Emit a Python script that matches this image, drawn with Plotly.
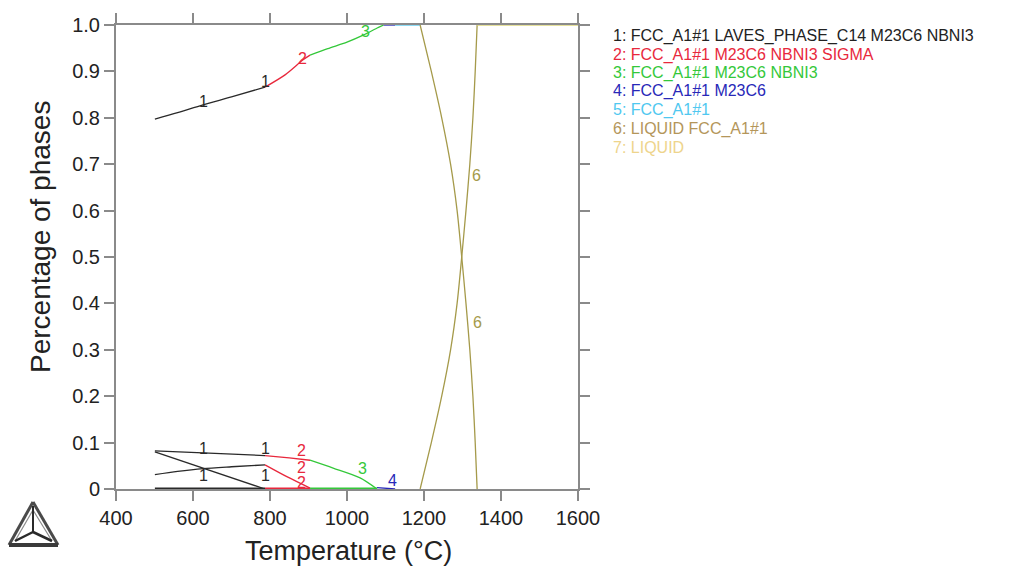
import plotly.graph_objects as go

# ---------------- data ----------------
# Set 1: FCC_A1#1 LAVES_PHASE_C14 M23C6 NBNI3
T1_fcc = [501, 560, 626, 700, 787]
F1_fcc = [0.797, 0.811, 0.828, 0.845, 0.866]
T1_a = [501, 626, 787]
F1_a = [0.082, 0.078, 0.072]
T1_laves = [501, 787]
F1_laves = [0.080, 0.0]
T1_c = [501, 560, 626, 700, 787]
F1_c = [0.031, 0.038, 0.044, 0.048, 0.052]
T1_zero = [501, 787]
F1_zero = [0.0, 0.0]

# Set 2: FCC_A1#1 M23C6 NBNI3 SIGMA
T2_fcc = [787, 840, 886, 904]
F2_fcc = [0.866, 0.893, 0.925, 0.935]
T2_a = [787, 850, 904]
F2_a = [0.072, 0.067, 0.062]
T2_b = [787, 845, 904]
F2_b = [0.052, 0.026, 0.002]
T2_zero = [787, 904]
F2_zero = [0.0, 0.0]

# Set 3: FCC_A1#1 M23C6 NBNI3
T3_fcc = [904, 950, 1000, 1042, 1075, 1095]
F3_fcc = [0.935, 0.949, 0.963, 0.978, 0.992, 1.0]
T3_a = [904, 964, 1034, 1078]
F3_a = [0.062, 0.045, 0.024, 0.0]
T3_zero = [904, 1078]
F3_zero = [0.0, 0.0]

# Set 4: FCC_A1#1 M23C6
T4_fcc = [1095, 1125]
F4_fcc = [1.0, 1.0]
T4_a = [1078, 1125]
F4_a = [0.003, 0.0]

# Set 5: FCC_A1#1
T5_fcc = [1125, 1190]
F5_fcc = [1.0, 1.0]

# Set 6: LIQUID FCC_A1#1
T6 = [1190, 1219, 1246, 1269, 1286, 1298, 1309, 1319, 1327, 1333, 1338]
F6_liq = [0.0, 0.1, 0.2, 0.3, 0.4, 0.5, 0.6, 0.7, 0.8, 0.9, 1.0]
F6_fcc = [1.0, 0.9, 0.8, 0.7, 0.6, 0.5, 0.4, 0.3, 0.2, 0.1, 0.0]

# Set 7: LIQUID
T7 = [1338, 1600]
F7_liq = [1.0, 1.0]

legend_labels = [
    "1: FCC_A1#1 LAVES_PHASE_C14 M23C6 NBNI3",
    "2: FCC_A1#1 M23C6 NBNI3 SIGMA",
    "3: FCC_A1#1 M23C6 NBNI3",
    "4: FCC_A1#1 M23C6",
    "5: FCC_A1#1",
    "6: LIQUID FCC_A1#1",
    "7: LIQUID",
]
set_colors = ["#2a2a2a", "#e8283c", "#34c83a", "#2828b8", "#50c8f0", "#a59a4a", "#dcd67a"]
legend_colors = ["#222222", "#e8283c", "#34c83a", "#2828b8", "#50c8f0", "#b4965a", "#eed48c"]

# curve labels: (text, T, fraction, set index)
curve_labels = [
    ("1", 626, 0.836, 0), ("1", 787, 0.879, 0),
    ("2", 885, 0.927, 1),
    ("3", 1047, 0.985, 2),
    ("4", 1117, 1.02, 3),
    ("7", 1548, 1.02, 6),
    ("6", 1336, 0.675, 5), ("6", 1338, 0.358, 5),
    ("1", 626, 0.088, 0), ("1", 626, 0.030, 0),
    ("1", 787, 0.088, 0), ("1", 787, 0.030, 0),
    ("2", 883, 0.084, 1), ("2", 881, 0.047, 1), ("2", 881, 0.015, 1),
    ("3", 1039, 0.045, 2),
    ("4", 1117, 0.018, 3),
]

x_ticks = [400, 600, 800, 1000, 1200, 1400, 1600]
y_ticks = [0, 0.1, 0.2, 0.3, 0.4, 0.5, 0.6, 0.7, 0.8, 0.9, 1.0]
y_ticktext = ["0", "0.1", "0.2", "0.3", "0.4", "0.5", "0.6", "0.7", "0.8", "0.9", "1.0"]

# ---------------- figure ----------------
fig = go.Figure()
series = [
    (T1_zero, F1_zero, 0, 3), (T2_zero, F2_zero, 1, 3), (T3_zero, F3_zero, 2, 3),
    (T1_fcc, F1_fcc, 0, 1.3), (T1_a, F1_a, 0, 1.3), (T1_laves, F1_laves, 0, 1.3), (T1_c, F1_c, 0, 1.3),
    (T2_fcc, F2_fcc, 1, 1.3), (T2_a, F2_a, 1, 1.3), (T2_b, F2_b, 1, 1.3),
    (T3_fcc, F3_fcc, 2, 1.3), (T3_a, F3_a, 2, 1.3),
    (T4_fcc, F4_fcc, 3, 1.3), (T4_a, F4_a, 3, 1.3),
    (T5_fcc, F5_fcc, 4, 1.3),
    (T6, F6_liq, 5, 1.3), (T6, F6_fcc, 5, 1.3),
    (T7, F7_liq, 6, 1.3),
]
for xs, ys, ci, w in series:
    fig.add_trace(go.Scatter(x=xs, y=ys, mode="lines",
                             line=dict(color=set_colors[ci], width=w, shape="spline", smoothing=0.8),
                             showlegend=False, hoverinfo="skip"))

annotations = []
for txt, t, f, ci in curve_labels:
    annotations.append(dict(x=t, y=f, xref="x", yref="y", text=txt, showarrow=False,
                            font=dict(family="Liberation Sans, Arial", size=16, color=set_colors[ci])))

# legend text block on the right
L, T_, W, H = 116, 25, 462, 464
def px(xp):
    return (xp - L) / W
def py(yp):
    return (T_ + H - yp) / H

for i, (lab, col) in enumerate(zip(legend_labels, legend_colors)):
    annotations.append(dict(x=px(612), y=py(36 + 18.5 * i), xref="paper", yref="paper",
                            xanchor="left", yanchor="middle", text=lab, showarrow=False,
                            borderpad=0,
                            font=dict(family="Liberation Sans, Arial", size=16, color=col)))

# axis titles
annotations.append(dict(x=px(348), y=py(551), xref="paper", yref="paper", text="Temperature (°C)",
                        showarrow=False, xanchor="center", yanchor="middle",
                        font=dict(family="Liberation Sans, Arial", size=27, color="#222222")))
annotations.append(dict(x=px(40), y=py(237), xref="paper", yref="paper", text="Percentage of phases",
                        showarrow=False, textangle=-90, xanchor="center", yanchor="middle",
                        font=dict(family="Liberation Sans, Arial", size=28, color="#222222")))

# Thermo-Calc style logo (decoration)
def seg(x0, y0, x1, y1, col, w):
    return dict(type="line", xref="paper", yref="paper", x0=px(x0), y0=py(y0), x1=px(x1), y1=py(y1),
                line=dict(color=col, width=w))
shapes = [
    seg(33, 502, 9, 545, "#4a4a4a", 3),
    seg(33, 502, 58, 545, "#4a4a4a", 3),
    seg(9, 545, 58, 545, "#3a3a3a", 4),
    seg(33, 510, 15, 541, "#8a8a8a", 1.2),
    seg(33, 510, 52, 541, "#8a8a8a", 1.2),
    seg(33, 506, 33, 532, "#2a2a2a", 2),
    seg(33, 532, 15, 541, "#2a2a2a", 2.5),
    seg(33, 532, 52, 541, "#2a2a2a", 2.5),
]

axis_common = dict(showgrid=False, zeroline=False, showline=True, linecolor="#8a8a8a", linewidth=2,
                   mirror="ticks", ticks="outside", ticklen=10, tickwidth=1.5, tickcolor="#8a8a8a",
                   tickfont=dict(family="Liberation Sans, Arial", size=20, color="#222222"))

fig.update_layout(
    width=1024, height=567,
    margin=dict(l=116, r=1024 - 578, t=25, b=567 - 489, autoexpand=False),
    paper_bgcolor="white", plot_bgcolor="white",
    xaxis=dict(range=[400, 1600], tickvals=x_ticks, **axis_common),
    yaxis=dict(range=[0, 1], tickvals=y_ticks, ticktext=y_ticktext, **axis_common),
    annotations=annotations, shapes=shapes, showlegend=False,
)

fig.write_html("out.html")
